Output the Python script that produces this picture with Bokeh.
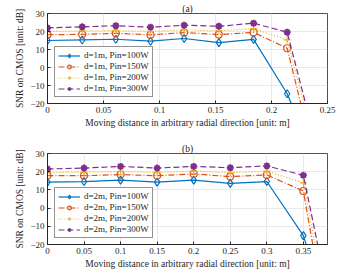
from bokeh.plotting import figure
from bokeh.layouts import column
from bokeh.models import Legend, LegendItem, FixedTicker, CustomJSTickFormatter, Range1d
from bokeh.embed import file_html
from bokeh.resources import INLINE

# ---- data ----
x_a = [0, 0.031, 0.061, 0.092, 0.122, 0.153, 0.184, 0.214, 0.245]
a_100 = [15.0, 15.3, 15.7, 14.6, 16.1, 13.8, 15.6, -14.6, -61]
a_150 = [18.2, 18.4, 19.0, 18.1, 19.4, 18.3, 19.5, 10.7, -68]
a_200 = [20.0, 20.3, 20.5, 20.1, 20.9, 20.4, 21.6, 15.3, -58]
a_300 = [22.0, 22.6, 23.2, 22.4, 23.5, 22.9, 24.6, 19.6, -55]
labels_a = ["d=1m, Pin=100W", "d=1m, Pin=150W", "d=1m, Pin=200W", "d=1m, Pin=300W"]

x_b = [0, 0.05, 0.10, 0.15, 0.20, 0.25, 0.30, 0.35, 0.40]
b_100 = [14.3, 14.6, 15.4, 14.3, 15.4, 13.6, 14.6, -15.1, -80]
b_150 = [17.8, 17.8, 18.4, 17.8, 18.8, 17.3, 18.2, 9.4, -105]
b_200 = [19.5, 19.7, 20.2, 19.6, 20.3, 19.4, 20.3, 13.9, -92]
b_300 = [21.5, 22.0, 22.9, 22.0, 22.9, 22.2, 23.2, 18.0, -79]
labels_b = ["d=2m, Pin=100W", "d=2m, Pin=150W", "d=2m, Pin=200W", "d=2m, Pin=300W"]

xticks_a = [0, 0.05, 0.1, 0.15, 0.2, 0.25]
xticks_b = [0, 0.05, 0.1, 0.15, 0.2, 0.25, 0.3, 0.35]
yticks = [-20, -10, 0, 10, 20, 30]

FONT = "Liberation Serif"
colors = ["#0072BD", "#D95319", "#EDB120", "#7E2F8E"]
dashes = ["solid", "6 2 1 2", "1 2", "6 3"]
markers = ["diamond", "circle", "cross", "asterisk"]


def make(title, xs, series, labels, xmax, xticks, fh, top, bottom):
    p = figure(frame_width=280, frame_height=fh, output_backend="svg", toolbar_location=None,
               x_range=Range1d(0, xmax), y_range=Range1d(-20, 30),
               min_border_left=47, min_border_right=35, min_border_top=top,
               min_border_bottom=bottom)
    p.title.text = title
    p.title.align = "center"
    p.title.text_font = FONT
    p.title.text_font_size = "9.5px"
    p.title.text_font_style = "normal"
    p.title.text_color = "#262626"
    p.title.standoff = 0
    p.title.offset = 0
    p.outline_line_color = "#262626"
    p.outline_line_width = 0.8
    for ax in (p.xaxis[0], p.yaxis[0]):
        ax.major_label_text_font = FONT
        ax.major_label_text_font_size = "9px"
        ax.major_label_text_color = "#262626"
        ax.axis_label_text_font = FONT
        ax.axis_label_text_font_size = "9.5px"
        ax.axis_label_text_font_style = "normal"
        ax.axis_label_text_color = "#262626"
        ax.axis_line_color = "#262626"
        ax.major_tick_line_color = "#262626"
        ax.major_tick_in = 3
        ax.major_tick_out = 0
        ax.minor_tick_line_color = None
        ax.major_label_standoff = 3
        ax.axis_label_standoff = 2
    p.xaxis.ticker = FixedTicker(ticks=xticks)
    p.yaxis.ticker = FixedTicker(ticks=yticks)
    p.xaxis.formatter = CustomJSTickFormatter(
        code="var s = tick.toFixed(2); s = s.replace(/0+$/, '').replace(/\\.$/, ''); return s;")
    p.xaxis.axis_label = "Moving distance in arbitrary radial direction [unit: m]"
    p.yaxis.axis_label = "SNR on CMOS [unit: dB]"
    p.grid.grid_line_color = "#e3e3e3"
    p.grid.grid_line_width = 0.8

    items = []
    for i, ys in enumerate(series):
        ln = p.line(xs, ys, line_color=colors[i], line_width=1.2, line_dash=dashes[i])
        if markers[i] == "asterisk":
            sc = p.scatter(xs, ys, marker="asterisk", size=7, line_color=colors[i],
                           line_width=2)
        elif markers[i] == "cross":
            sc = p.scatter(xs, ys, marker="cross", size=7, line_color=colors[i],
                           line_width=1.2)
        else:
            sc = p.scatter(xs, ys, marker=markers[i], size=7 if markers[i] == "circle" else 8,
                           line_color=colors[i], fill_color=None, line_width=1.2)
        items.append(LegendItem(label=labels[i], renderers=[ln, sc]))
    leg = Legend(items=items, location=(7, 6))
    leg.label_text_font = FONT
    leg.label_text_font_size = "9px"
    leg.label_text_color = "#262626"
    leg.label_height = 9
    leg.glyph_height = 9
    leg.glyph_width = 22
    leg.label_standoff = 4
    leg.spacing = 1
    leg.padding = 3
    leg.margin = 0
    leg.border_line_color = "#262626"
    leg.border_line_width = 0.8
    p.add_layout(leg, "center")
    return p


p1 = make("(a)", x_a, [a_100, a_150, a_200, a_300], labels_a, 0.25, xticks_a, 90, 13, 33)
p2 = make("(b)", x_b, [b_100, b_150, b_200, b_300], labels_b, 0.383, xticks_b, 91, 17, 0)

layout = column(p1, p2, spacing=0)
open("out.html", "w").write(file_html(layout, INLINE))
